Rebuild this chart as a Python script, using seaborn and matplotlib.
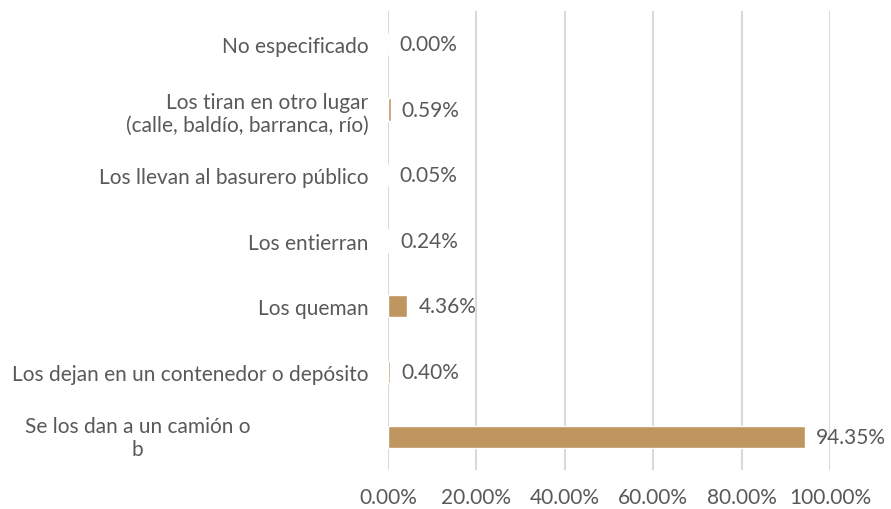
import matplotlib
matplotlib.use("Agg")
import matplotlib.pyplot as plt
import matplotlib.transforms as mtransforms
import seaborn as sns
import pandas as pd

# Data (top to bottom)
categories = [
    "No especificado",
    "Los tiran en otro lugar\n(calle, baldío, barranca, río)",
    "Los llevan al basurero público",
    "Los entierran",
    "Los queman",
    "Los dejan en un contenedor o depósito",
    "Se los dan a un camión o\nb",
]
values = [0.00, 0.59, 0.05, 0.24, 4.36, 0.40, 94.35]
value_labels = ["0.00%", "0.59%", "0.05%", "0.24%", "4.36%", "0.40%", "94.35%"]
x_ticks = [0, 20, 40, 60, 80, 100]
x_tick_labels = ["0.00%", "20.00%", "40.00%", "60.00%", "80.00%", "100.00%"]

df = pd.DataFrame({"cat": categories, "val": values})

sns.set_theme(style="white")
plt.rcParams["font.family"] = ["Lato", "DejaVu Sans"]
text_color = "#595959"
bar_color = "#BF9660"
grid_color = "#D9D9D9"
fs = 15

fig = plt.figure(figsize=(8.91, 5.10), dpi=100)
ax = fig.add_axes([0.4355, 0.0765, 0.496, 0.8995])

sns.barplot(data=df, x="val", y="cat", orient="h", color=bar_color,
            width=0.34, saturation=1, ax=ax, zorder=3)

ax.set_xlim(0, 100)
ax.set_ylim(len(categories) - 0.5, -0.5)
ax.set_xticks(x_ticks)
ax.set_xticklabels(x_tick_labels)
ax.xaxis.grid(True, color=grid_color, linewidth=1.5, zorder=0)
ax.set_axisbelow(True)
for s in ax.spines.values():
    s.set_visible(False)
ax.set_xlabel("")
ax.set_ylabel("")
ax.tick_params(axis="x", length=0, pad=12, labelsize=fs, labelcolor=text_color)
ax.tick_params(axis="y", length=0, pad=14, labelsize=fs, labelcolor=text_color)

# last label is cut off in the original, place it by hand
labels = [t.get_text() for t in ax.get_yticklabels()]
labels[-1] = ""
ax.set_yticklabels(labels)
trans = mtransforms.blended_transform_factory(ax.transAxes, ax.transData)
ax.text(-0.312, len(categories) - 1, categories[-1], transform=trans,
        ha="right", va="center", ma="center", fontsize=fs, color=text_color)

ax.bar_label(ax.containers[0], labels=value_labels, padding=8,
             fontsize=fs, color=text_color)

fig.savefig("out.png", dpi=100)
